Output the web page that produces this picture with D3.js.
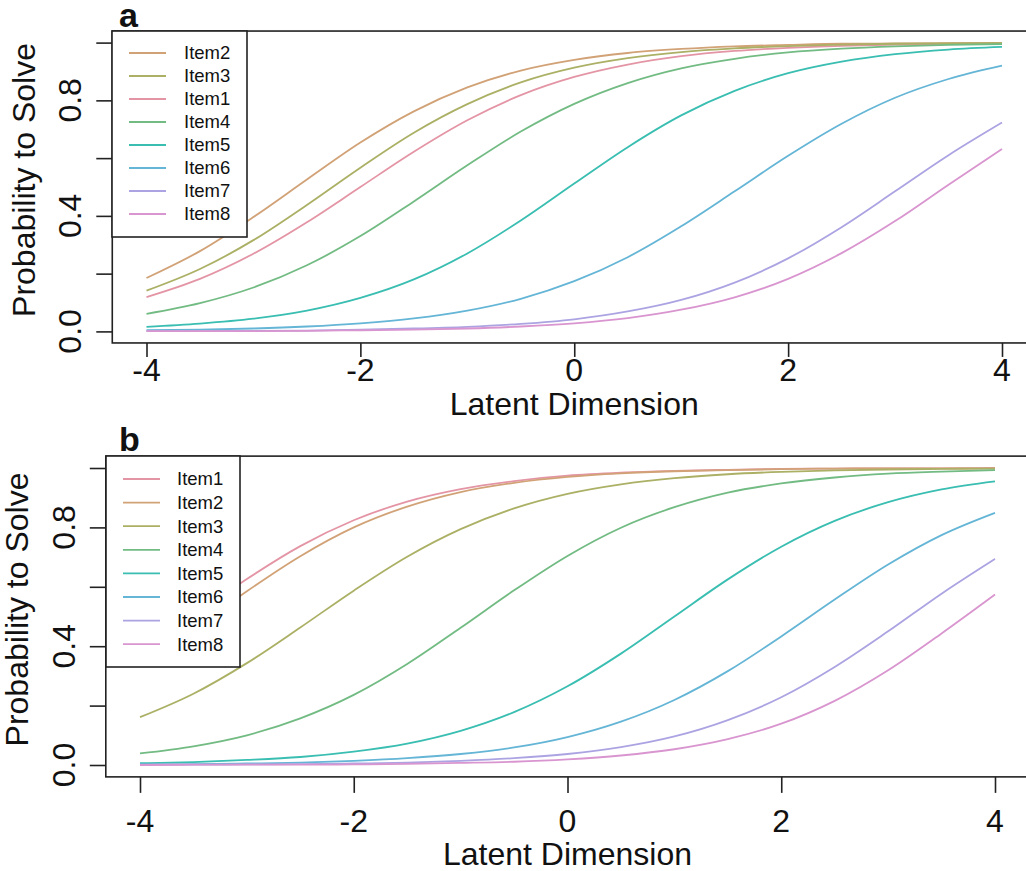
<!DOCTYPE html>
<html>
<head>
<meta charset="utf-8">
<script src="https://cdn.jsdelivr.net/npm/d3@7"></script>
<style>
  html, body { margin: 0; padding: 0; background: #ffffff; }
  svg { display: block; }
  text { font-family: "Liberation Sans", Arial, Helvetica, sans-serif; fill: #111; }
</style>
</head>
<body>
<div id="chart"></div>
<script>
// ---------------- DATA ----------------
const thetaValues = [-4, -3.5, -3, -2.5, -2, -1.5, -1, -0.5, 0, 0.5, 1, 1.5, 2, 2.5, 3, 3.5, 4];
const itemNames = ["Item1", "Item2", "Item3", "Item4", "Item5", "Item6", "Item7", "Item8"];
const itemColors = ["#E495A5", "#D2A277", "#ABB065", "#72BB83", "#39BEB1", "#64B5D6", "#ACA4E2", "#D995CF"];

// Panel a: probability to solve
const aItem1 = [0.119, 0.182, 0.269, 0.378, 0.500, 0.622, 0.731, 0.818, 0.881, 0.924, 0.953, 0.971, 0.982, 0.989, 0.993, 0.996, 0.998];
const aItem2 = [0.185, 0.278, 0.396, 0.526, 0.654, 0.762, 0.845, 0.903, 0.940, 0.964, 0.978, 0.987, 0.992, 0.996, 0.997, 0.998, 0.999];
const aItem3 = [0.141, 0.216, 0.316, 0.438, 0.567, 0.688, 0.787, 0.862, 0.913, 0.946, 0.967, 0.980, 0.988, 0.993, 0.996, 0.997, 0.998];
const aItem4 = [0.061, 0.098, 0.152, 0.229, 0.330, 0.450, 0.575, 0.692, 0.788, 0.860, 0.911, 0.944, 0.966, 0.979, 0.987, 0.992, 0.995];
const aItem5 = [0.016, 0.027, 0.044, 0.072, 0.116, 0.180, 0.270, 0.384, 0.512, 0.638, 0.748, 0.833, 0.894, 0.934, 0.960, 0.976, 0.985];
const aItem6 = [0.004, 0.006, 0.010, 0.017, 0.028, 0.045, 0.072, 0.113, 0.174, 0.257, 0.364, 0.485, 0.608, 0.719, 0.809, 0.874, 0.920];
const aItem7 = [0.001, 0.001, 0.002, 0.003, 0.006, 0.010, 0.016, 0.026, 0.042, 0.069, 0.109, 0.169, 0.253, 0.361, 0.485, 0.610, 0.723];
const aItem8 = [0.001, 0.001, 0.001, 0.002, 0.004, 0.006, 0.010, 0.017, 0.028, 0.046, 0.075, 0.118, 0.182, 0.271, 0.382, 0.508, 0.632];

// Panel b
const bItem1 = [0.374, 0.500, 0.626, 0.737, 0.824, 0.887, 0.929, 0.956, 0.974, 0.984, 0.990, 0.994, 0.997, 0.998, 0.999, 0.999, 1.000];
const bItem2 = [0.332, 0.456, 0.585, 0.703, 0.800, 0.870, 0.919, 0.950, 0.970, 0.982, 0.989, 0.993, 0.996, 0.998, 0.999, 0.999, 0.999];
const bItem3 = [0.161, 0.240, 0.343, 0.463, 0.587, 0.701, 0.794, 0.864, 0.913, 0.945, 0.966, 0.979, 0.987, 0.992, 0.995, 0.997, 0.998];
const bItem4 = [0.039, 0.063, 0.100, 0.157, 0.236, 0.340, 0.462, 0.588, 0.704, 0.799, 0.868, 0.917, 0.948, 0.968, 0.981, 0.988, 0.993];
const bItem5 = [0.006, 0.010, 0.017, 0.027, 0.045, 0.072, 0.115, 0.178, 0.265, 0.375, 0.500, 0.625, 0.735, 0.822, 0.885, 0.928, 0.955];
const bItem6 = [0.002, 0.003, 0.005, 0.008, 0.014, 0.023, 0.037, 0.059, 0.094, 0.146, 0.219, 0.316, 0.433, 0.557, 0.675, 0.774, 0.849];
const bItem7 = [0.001, 0.001, 0.002, 0.003, 0.005, 0.008, 0.014, 0.023, 0.037, 0.060, 0.096, 0.151, 0.228, 0.330, 0.450, 0.577, 0.694];
const bItem8 = [0.000, 0.001, 0.001, 0.001, 0.002, 0.004, 0.007, 0.011, 0.019, 0.032, 0.053, 0.087, 0.139, 0.216, 0.319, 0.443, 0.574];

const xTickValues = [-4, -2, 0, 2, 4];
const yTickValues = [0, 0.2, 0.4, 0.6, 0.8, 1.0];
const yTickLabels = ["0.0", "", "0.4", "", "0.8", ""];
const legendOrderA = ["Item2", "Item3", "Item1", "Item4", "Item5", "Item6", "Item7", "Item8"];
const legendOrderB = ["Item1", "Item2", "Item3", "Item4", "Item5", "Item6", "Item7", "Item8"];
const xTitle = "Latent Dimension";
const yTitle = "Probability to Solve";

// ---------------- LAYOUT ----------------
const W = 1026, H = 871;
const svg = d3.select("#chart").append("svg").attr("width", W).attr("height", H);

const panels = [
  { tag: "a", series: [aItem1, aItem2, aItem3, aItem4, aItem5, aItem6, aItem7, aItem8], legend: legendOrderA,
    xPx: [146.5, 1002], yPx: [331.4, 42.6], tagY: 27, tickLen: 14, tickLabY: 381, titleY: 415, yLabX: 81, yTitleX: 35,
    legX: 129, legTextX: 184, legRow0: 53, legRowH: 23.0, legBox: [112, 31, 247, 237] },
  { tag: "b", series: [bItem1, bItem2, bItem3, bItem4, bItem5, bItem6, bItem7, bItem8], legend: legendOrderB,
    xPx: [140, 995], yPx: [765, 468], tagY: 451, tickLen: 16, tickLabY: 832, titleY: 865, yLabX: 75, yTitleX: 28,
    legX: 123, legTextX: 177, legRow0: 479, legRowH: 23.6, legBox: [106, 456, 240, 667] }
];

panels.forEach(p => {
  const g = svg.append("g");
  const x = d3.scaleLinear().domain([-4, 4]).range(p.xPx);
  const y = d3.scaleLinear().domain([0, 1]).range(p.yPx);

  // curves
  const line = d3.line().x((d, i) => x(thetaValues[i])).y(d => y(d)).curve(d3.curveMonotoneX);
  p.series.forEach((s, k) => {
    g.append("path").datum(s).attr("d", line)
      .attr("fill", "none").attr("stroke", itemColors[k]).attr("stroke-width", 1.8);
  });

  // box (R style: 4% extension)
  const bx0 = x(-4.32), bx1 = x(4.32), by0 = y(1.04), by1 = y(-0.04);
  g.append("rect").attr("x", bx0).attr("y", by0).attr("width", bx1 - bx0).attr("height", by1 - by0)
    .attr("fill", "none").attr("stroke", "#222").attr("stroke-width", 1.6);

  // x axis
  const xAxis = d3.axisBottom(x).tickValues(xTickValues).tickSize(p.tickLen).tickSizeOuter(0).tickFormat(() => "");
  const xg = g.append("g").attr("transform", `translate(0,${by1})`).call(xAxis);
  xg.select(".domain").remove();
  xg.selectAll(".tick line").attr("stroke", "#222").attr("stroke-width", 1.6);
  g.selectAll(".xlab").data(xTickValues).enter().append("text")
    .attr("x", d => x(d)).attr("y", p.tickLabY).attr("text-anchor", "middle")
    .style("font-size", "32px").text(d => d < 0 ? "-" + Math.abs(d) : String(d));
  g.append("text").attr("x", x(0)).attr("y", p.titleY).attr("text-anchor", "middle")
    .style("font-size", "32px").text(xTitle);

  // y axis
  const yAxis = d3.axisLeft(y).tickValues(yTickValues).tickSize(16).tickSizeOuter(0).tickFormat(() => "");
  const yg = g.append("g").attr("transform", `translate(${bx0},0)`).call(yAxis);
  yg.select(".domain").remove();
  yg.selectAll(".tick line").attr("stroke", "#222").attr("stroke-width", 1.6);
  g.selectAll(".ylab").data(yTickValues).enter().append("text")
    .attr("transform", d => `translate(${p.yLabX},${y(d)}) rotate(-90)`)
    .attr("text-anchor", "middle").style("font-size", "32px")
    .text((d, i) => yTickLabels[i]);
  g.append("text").attr("transform", `translate(${p.yTitleX},${(by0 + by1) / 2 - 7}) rotate(-90)`)
    .attr("text-anchor", "middle").style("font-size", "32px").text(yTitle);

  // legend
  const lb = p.legBox;
  g.append("rect").attr("x", lb[0]).attr("y", lb[1]).attr("width", lb[2] - lb[0]).attr("height", lb[3] - lb[1])
    .attr("fill", "#fff").attr("stroke", "#222").attr("stroke-width", 1.6);
  p.legend.forEach((name, i) => {
    const k = itemNames.indexOf(name);
    const yy = p.legRow0 + i * p.legRowH;
    g.append("line").attr("x1", p.legX).attr("x2", p.legX + 37).attr("y1", yy).attr("y2", yy)
      .attr("stroke", itemColors[k]).attr("stroke-width", 1.8);
    g.append("text").attr("x", p.legTextX).attr("y", yy).attr("dy", "0.35em")
      .style("font-size", "18.5px").text(name);
  });

  // panel tag
  g.append("text").attr("x", 119).attr("y", p.tagY).style("font-size", "34px")
    .style("font-weight", "bold").text(p.tag);
});
</script>
</body>
</html>
